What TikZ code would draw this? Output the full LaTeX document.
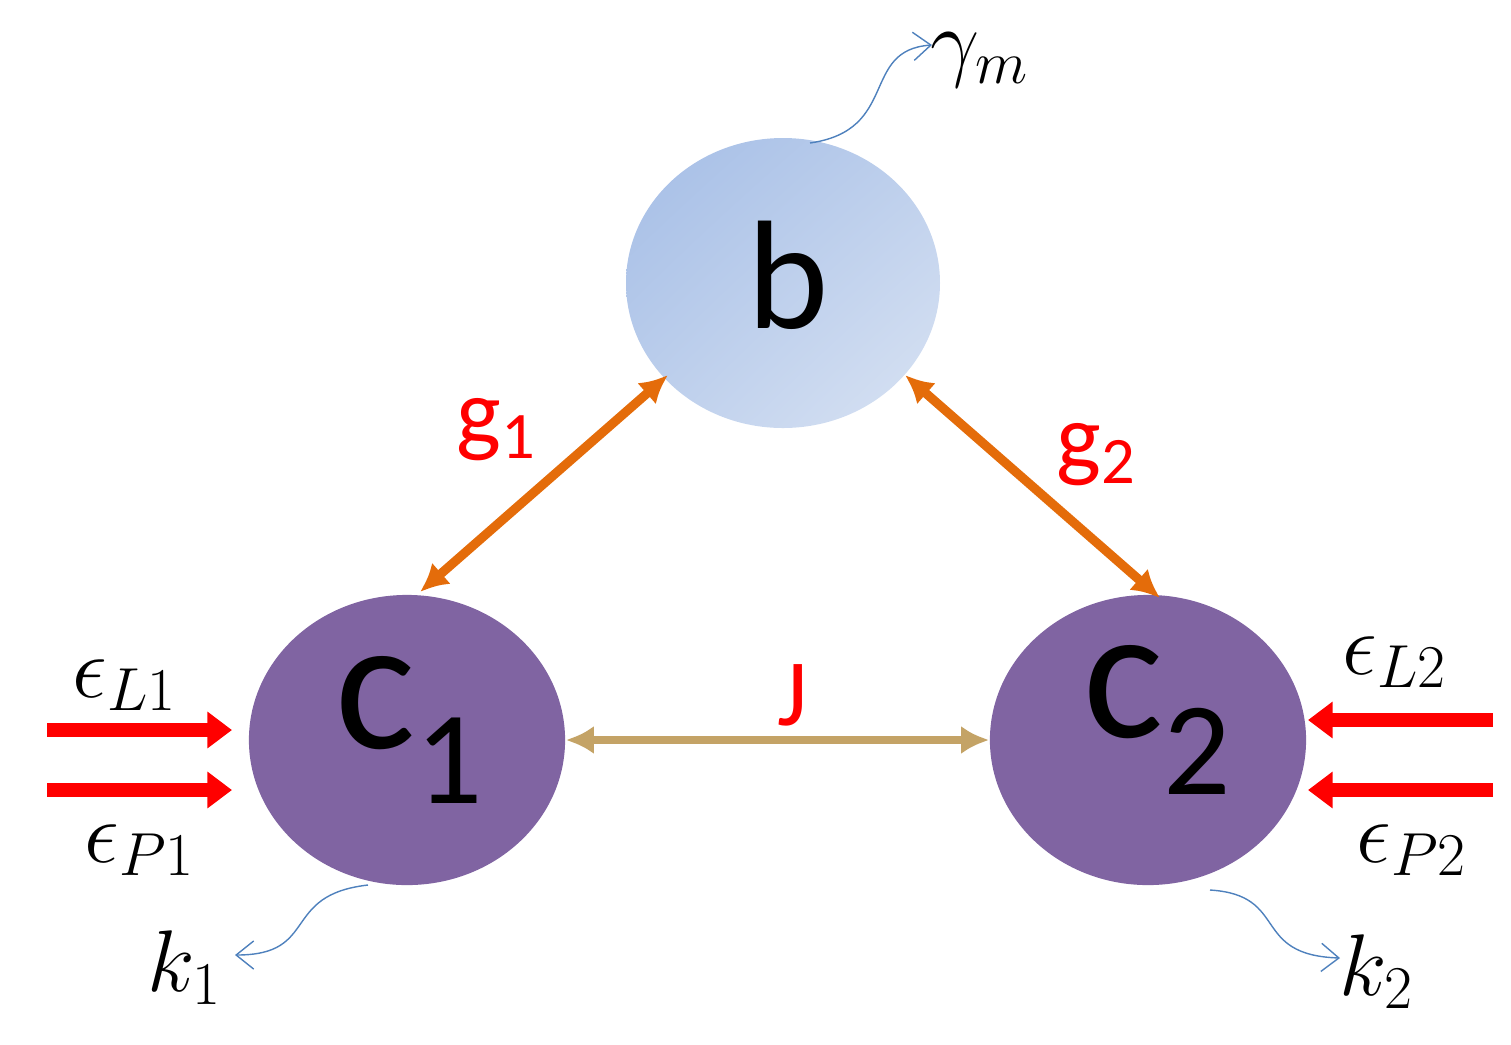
\documentclass[tikz,border=0pt]{standalone}
\usepackage{fontspec}
\newfontfamily\carl{Carlito}
\usetikzlibrary{arrows.meta,shapes.geometric,shadings}
\definecolor{purp}{HTML}{8064A2}
\definecolor{org}{HTML}{E46C0A}
\definecolor{tan}{HTML}{C4A366}
\definecolor{wblue}{HTML}{4F81BD}
\definecolor{bdark}{HTML}{A4BDE6}
\definecolor{bmid}{HTML}{BDCFEC}
\definecolor{blight}{HTML}{D9E3F3}
\begin{document}
\begin{tikzpicture}[x=0.01cm,y=-0.01cm,
  cav/.style={ellipse,fill=purp,minimum width=3.16cm,minimum height=2.9cm,inner sep=0},
  coup/.style={line width=2.6pt,{Latex[length=8pt,width=8pt]}-{Latex[length=8pt,width=8pt]}},
  drive/.style={red,line width=4pt,-{Triangle[length=7pt,width=10pt]}},
  loss/.style={wblue,thin,-{Straight Barb[length=5pt,width=8pt]}},
  lab/.style={font=\fontsize{24}{26}\selectfont},
  sl/.style={red,font=\carl\fontsize{27}{30}\selectfont}]
\useasboundingbox (0,0) rectangle (1511,1044);
\shade[upper left=bdark,lower right=blight,upper right=bmid,lower left=bmid] (783,283) ellipse [x radius=157,y radius=145];
\node[ellipse,minimum width=3.14cm,minimum height=2.9cm,inner sep=0] (b) at (783,283) {};
\node[font=\carl\fontsize{44}{46}\selectfont] at (788,275) {b};
\node[cav] (c1) at (407,740) {};
\node[cav] (c2) at (1148,740) {};
\node[font=\carl\fontsize{54}{56}\selectfont] at (410,730) {c\textsubscript{1}};
\node[font=\carl\fontsize{54}{56}\selectfont] at (1158,720) {c\textsubscript{2}};
\coordinate (g1a) at (420,592); \coordinate (g1b) at (668,375);
\coordinate (g2a) at (905,375); \coordinate (g2b) at (1160,598);
\draw[coup,org] (g1a) -- (g1b);
\draw[coup,org] (g2a) -- (g2b);
\draw[coup,tan,line width=2.2pt] (c1.east) -- (c2.west);
\node[sl] at (497,430) {g\textsubscript{1}};
\node[sl] at (1097,455) {g\textsubscript{2}};
\node[sl] at (793,695) {J};
\coordinate (l1) at (47,730); \coordinate (l2) at (47,790);
\coordinate (r1) at (1493,720); \coordinate (r2) at (1493,790);
\coordinate (l1e) at (232,730); \coordinate (l2e) at (232,790);
\coordinate (r1e) at (1308,720); \coordinate (r2e) at (1308,790);
\draw[drive] (l1) -- (l1e);
\draw[drive] (l2) -- (l2e);
\draw[drive] (r1) -- (r1e);
\draw[drive] (r2) -- (r2e);
\node[lab] at (125,685) {$\epsilon_{L1}$};
\node[lab] at (140,850) {$\epsilon_{P1}$};
\node[lab] at (1395,662) {$\epsilon_{L2}$};
\node[lab] at (1412,850) {$\epsilon_{P2}$};
\node[lab] (k1) at (185,968) {$k_1$};
\node[lab] (k2) at (1377,972) {$k_2$};
\node[lab] (gm) at (980,60) {$\gamma_{m}$};
\coordinate (s1) at (810,143); \coordinate (s2) at (368,885); \coordinate (s3) at (1210,890);
\coordinate (e1) at (932,45); \coordinate (e2) at (235,955); \coordinate (e3) at (1340,958);
\draw[loss] (s1) .. controls (900,130) and (860,50) .. (e1);
\draw[loss] (s2) .. controls (280,895) and (320,955) .. (e2);
\draw[loss] (s3) .. controls (1290,895) and (1250,955) .. (e3);
\end{tikzpicture}
\end{document}
